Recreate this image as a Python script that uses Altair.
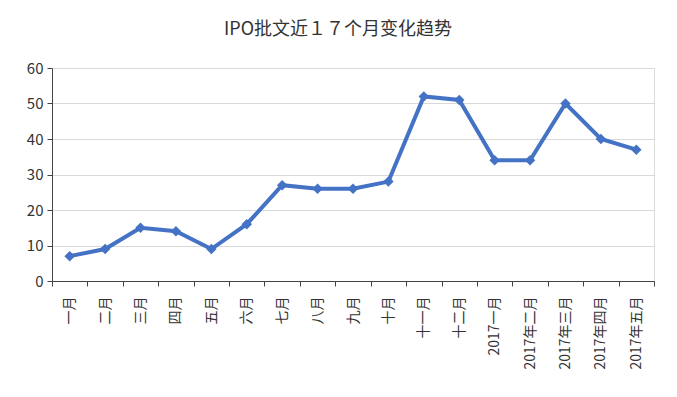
import altair as alt
import pandas as pd

months = ["一月", "二月", "三月", "四月", "五月", "六月", "七月", "八月", "九月", "十月",
          "十一月", "十二月", "2017一月", "2017年二月", "2017年三月", "2017年四月", "2017年五月"]
counts = [7, 9, 15, 14, 9, 16, 27, 26, 26, 28, 52, 51, 34, 34, 50, 40, 37]

df = pd.DataFrame({"month": months, "count": counts})

FONT = "Noto Sans CJK SC"
BLUE = "#4472C4"

x = alt.X("month:N", sort=months, title=None,
          scale=alt.Scale(paddingInner=0, paddingOuter=0),
          axis=alt.Axis(labelAngle=-90, tickBand="extent", labelFontSize=14,
                        labelColor="#333333", labelFont=FONT, domainColor="#444444",
                        tickColor="#444444", tickSize=5, labelPadding=10, grid=False))
y = alt.Y("count:Q", title=None,
          scale=alt.Scale(domain=[0, 60], nice=False),
          axis=alt.Axis(values=[0, 10, 20, 30, 40, 50, 60], labelFontSize=15,
                        labelColor="#333333", labelFont=FONT, domainColor="#444444",
                        tickColor="#444444", tickSize=5, gridColor="#d9d9d9",
                        labelPadding=4))

line = alt.Chart(df).mark_line(color=BLUE, strokeWidth=4).encode(x=x, y=y)
pts = alt.Chart(df).mark_point(shape="diamond", filled=True, color=BLUE,
                               size=110, opacity=1).encode(x=x, y=y)

chart = (line + pts).properties(
    width=602, height=213,
    autosize=alt.AutoSizeParams(type="none"),
    padding={"left": 44, "top": 60, "right": 15, "bottom": 100},
    title=alt.TitleParams("IPO批文近１７个月变化趋势", font=FONT, fontSize=18,
                          fontWeight="normal", color="#333333", offset=22, dx=-15),
).configure_view(stroke=None).configure(background="white")

chart.save("out.html", embed_options={"renderer": "svg", "actions": False})
